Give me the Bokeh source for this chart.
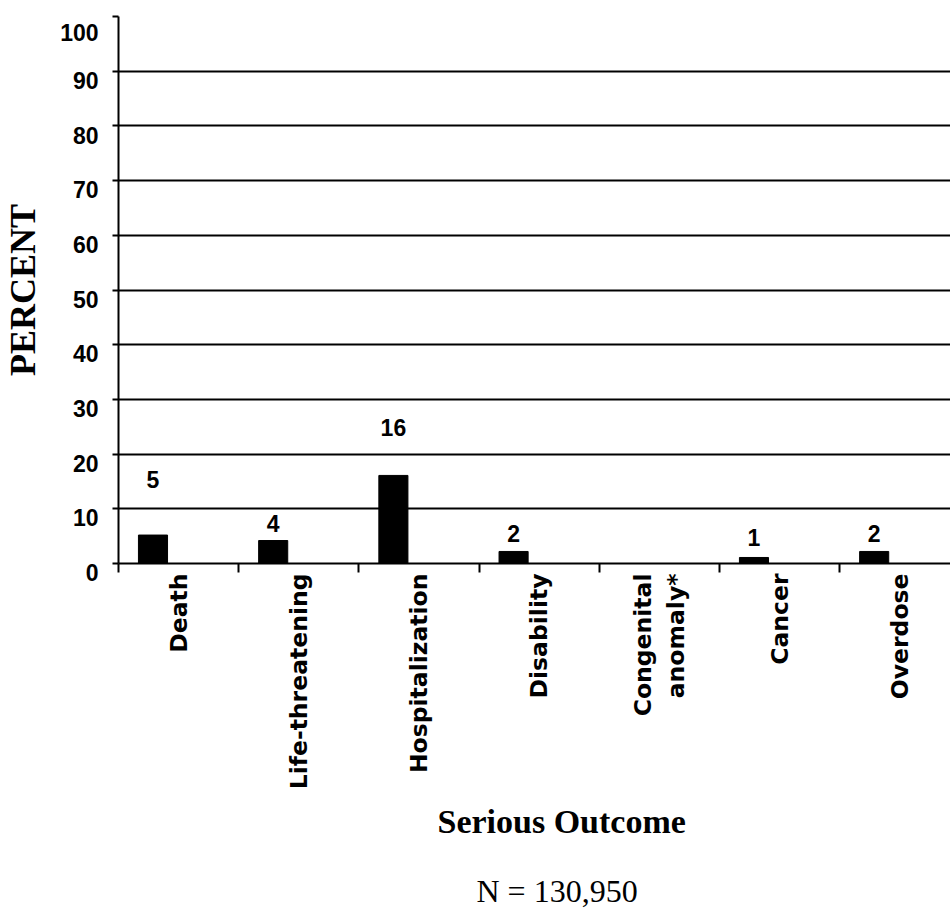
import math
import numpy as np
from bokeh.plotting import figure
from bokeh.models import Range1d, FixedTicker, ColumnDataSource, Title
from bokeh.transform import dodge
from bokeh.core.properties import value
from bokeh.embed import file_html
from bokeh.resources import INLINE

# ---- data ----
categories = ["Death", "Life-threatening", "Hospitalization", "Disability",
              "Congenital\nanomaly*", "Cancer", "Overdose"]
percent = [5.2, 4.2, 16.1, 2.2, 0.0, 1.1, 2.2]
value_labels = ["5", "4", "16", "2", "", "1", "2"]
y_ticks = [0, 10, 20, 30, 40, 50, 60, 70, 80, 90, 100]

# ---- style ----
label_gap = [10.2, 3.2, 8.8, 3.3, 0.0, 3.6, 3.3]   # label offset above bar (data units)
NUM_FONT = "'Liberation Sans', Arial, sans-serif"
CAT_FONT = "'DejaVu Sans', sans-serif"
SERIF = "'Liberation Serif', 'Times New Roman', serif"

centers = np.arange(len(categories)) + 0.5
src = ColumnDataSource(dict(
    x=centers,
    top=percent,
    lab=value_labels,
    ly=np.array(percent) + np.array(label_gap),
))

p = figure(width=950, height=909, output_backend="svg", toolbar_location=None,
           x_range=Range1d(0, 6.922), y_range=Range1d(0, 100),
           min_border_left=118, min_border_right=0, min_border_top=16,
           min_border_bottom=346)
p.outline_line_color = None
p.background_fill_color = "white"
p.border_fill_color = "white"

p.vbar(x=dodge('x', -0.213), top='top', bottom=0, width=0.242, source=src,
       fill_color="black", line_color="black")
p.text(x=dodge('x', -0.213), y='ly', text='lab', source=src,
       text_font=value(NUM_FONT), text_font_style="bold", text_font_size="23px",
       text_align="center", text_baseline="middle", text_color="black")

# y axis (labels hang just below their gridline, as in the reference)
p.yaxis.ticker = FixedTicker(ticks=y_ticks)
p.yaxis.major_label_overrides = {t: "\n" + str(t) for t in y_ticks}
p.yaxis.major_label_text_line_height = 0.74
p.yaxis.axis_line_color = "black"
p.yaxis.axis_line_width = 2
p.yaxis.major_tick_line_color = "black"
p.yaxis.major_tick_line_width = 2
p.yaxis.major_tick_out = 6
p.yaxis.major_tick_in = 0
p.yaxis.minor_tick_line_color = None
p.yaxis.major_label_text_font = NUM_FONT
p.yaxis.major_label_text_font_style = "bold"
p.yaxis.major_label_text_font_size = "23px"
p.yaxis.major_label_text_color = "black"
p.yaxis.major_label_standoff = 14
p.yaxis.axis_label = "PERCENT"
p.yaxis.axis_label_text_font = SERIF
p.yaxis.axis_label_text_font_style = "bold"
p.yaxis.axis_label_text_font_size = "36px"
p.yaxis.axis_label_text_color = "black"
p.yaxis.axis_label_standoff = 14

p.ygrid.ticker = FixedTicker(ticks=y_ticks)
p.ygrid.grid_line_color = "black"
p.ygrid.grid_line_width = 2
p.xgrid.visible = False

# x axis
p.xaxis.ticker = FixedTicker(ticks=list(centers), minor_ticks=list(range(len(categories) + 1)))
p.xaxis.major_label_overrides = {float(c): cat for c, cat in zip(centers, categories)}
p.xaxis.axis_line_color = "black"
p.xaxis.axis_line_width = 2
p.xaxis.major_tick_line_color = None
p.xaxis.major_tick_out = 0
p.xaxis.major_tick_in = 0
p.xaxis.minor_tick_line_color = "black"
p.xaxis.minor_tick_line_width = 2
p.xaxis.minor_tick_out = 9
p.xaxis.minor_tick_in = 0
p.xaxis.major_label_orientation = math.pi / 2
p.xaxis.major_label_text_font = CAT_FONT
p.xaxis.major_label_text_font_style = "bold"
p.xaxis.major_label_text_font_size = "23.5px"
p.xaxis.major_label_text_color = "black"
p.xaxis.major_label_standoff = 1

# titles below the axis
p.add_layout(Title(text="Serious Outcome", align="left", offset=319, standoff=17,
                   vertical_align="bottom",
                   text_font=SERIF, text_font_style="bold", text_font_size="34px",
                   text_color="black"), "below")
# spacer between the two bottom texts
p.add_layout(Title(text=" ", standoff=19, text_font_size="1px"), "below")
p.add_layout(Title(text="N = 130,950", align="left", offset=358, standoff=0,
                   vertical_align="bottom",
                   text_font=SERIF, text_font_style="normal", text_font_size="32px",
                   text_color="black"), "below")

open("out.html", "w").write(file_html(p, INLINE))
